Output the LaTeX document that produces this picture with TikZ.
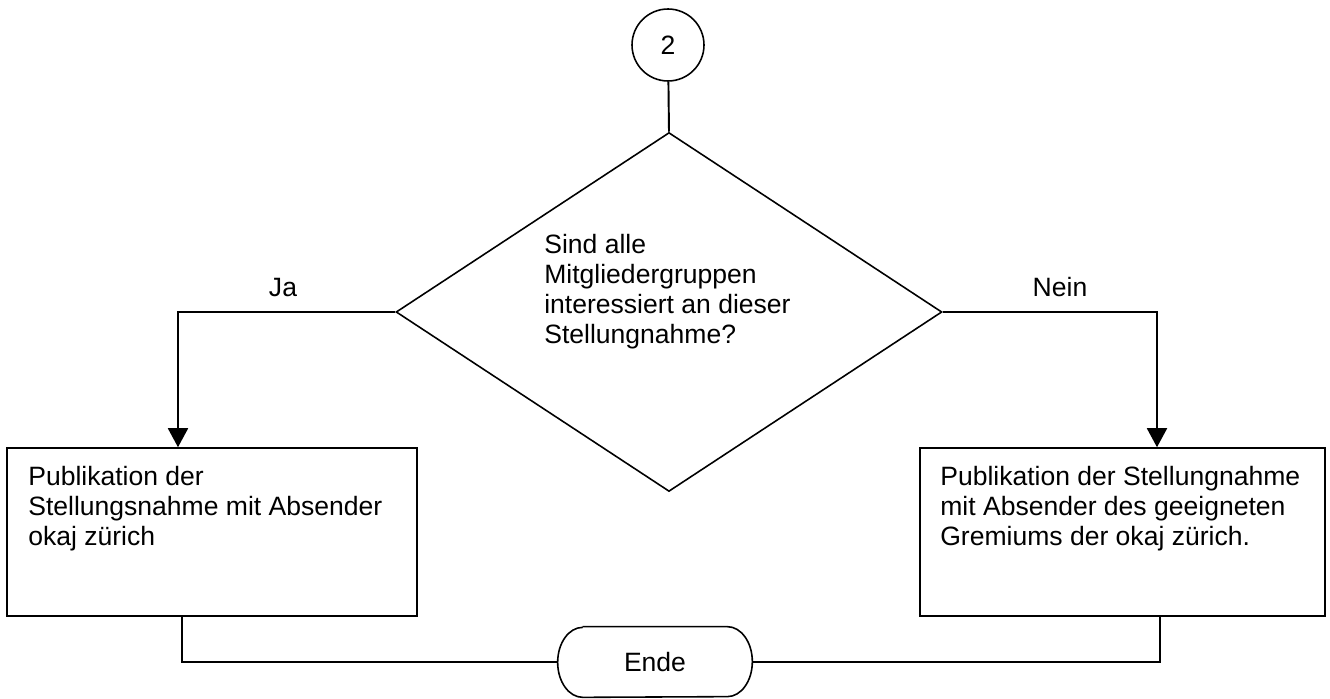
\documentclass[tikz,border=0pt]{standalone}
\usepackage{fontspec}
\setmainfont{Liberation Sans}
\usepackage{tikz}
\usetikzlibrary{arrows.meta,positioning,shapes.geometric,calc}
\definecolor{FlowInk}{HTML}{000000}
\tikzset{
  flowtext/.style={font=\fontsize{15.1}{17.1}\selectfont, text=FlowInk, inner sep=0pt},
  flowshape/.style={draw=FlowInk, line width=0.9pt, fill=white},
  flowbox/.style={flowshape, rectangle, minimum width=#1, minimum height=3.36cm, inner sep=0pt},
  jumpcircle/.style={flowshape, circle, minimum size=1.44cm, inner sep=0pt},
  decision/.style={flowshape, diamond, minimum width=10.92cm, minimum height=7.18cm, inner sep=0pt},
  terminal/.style={rectangle, minimum width=3.88cm, minimum height=1.4cm, inner sep=0pt},
  flowline/.style={draw=FlowInk, line width=1.1pt},
  flowarrow/.style={flowline, -{Triangle[length=0.38cm, width=0.4cm]}}
}

\begin{document}
\begin{tikzpicture}[x=0.02cm, y=-0.02cm, every node/.style={flowtext}]
\useasboundingbox (0,0) rectangle (1330,699);
% shapes
\node[jumpcircle] (jump) at (668,45) {2};
\node[decision] (frage) at (669,312) {};
\node[flowbox=8.2cm] (pubja) at (212,532) {};
\node[flowbox=8.1cm] (pubnein) at (1122.5,532) {};
\node[terminal] (ende) at (655,662) {Ende};
\draw[flowshape, fill=none] ([xshift=0.5cm]ende.north west) -- ([xshift=-0.5cm]ende.north east)
  arc[start angle=90, end angle=-90, x radius=0.5cm, y radius=0.7cm]
  -- ([xshift=0.5cm]ende.south west)
  arc[start angle=270, end angle=90, x radius=0.5cm, y radius=0.7cm];
% texts
\node[anchor=north west, align=left] (fragetext) at (544,234) {Sind alle\\Mitgliedergruppen\\interessiert an dieser\\Stellungnahme?};
\node[anchor=north west, align=left] (jatext) at (28,466) {Publikation der\\Stellungsnahme mit Absender\\okaj zürich};
\node[anchor=north west, align=left] (neintext) at (940,466) {Publikation der Stellungnahme\\mit Absender des geeigneten\\Gremiums der okaj zürich.};
\node[anchor=base] (ja) at (283,297) {Ja};
\node[anchor=base] (nein) at (1060,297) {Nein};
% connectors
\coordinate (jaknick) at (178,312);
\coordinate (neinknick) at (1157,312);
\draw[flowline] (jump) -- (frage.north);
\draw[flowarrow] (frage.west) -| (jaknick |- pubja.north);
\draw[flowarrow] (frage.east) -| (neinknick |- pubnein.north);
\draw[flowline] ([xshift=-0.6cm]pubja.south) |- (ende.west);
\draw[flowline] ([xshift=0.75cm]pubnein.south) |- (ende.east);
\end{tikzpicture}
\end{document}
